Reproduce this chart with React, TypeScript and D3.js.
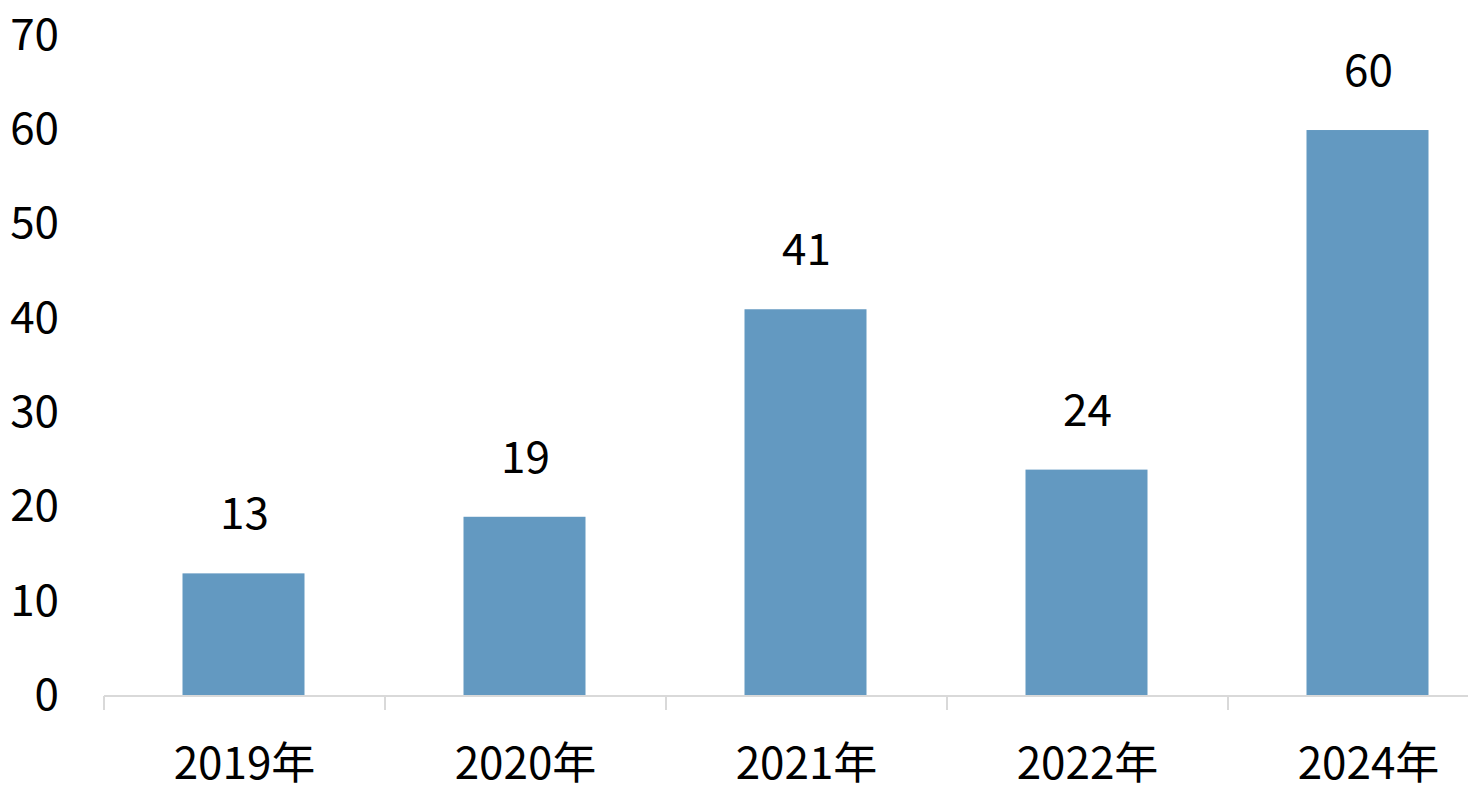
import React from "react";
import * as d3 from "d3";

const categories = ["2019年", "2020年", "2021年", "2022年", "2024年"];
const values = [13, 19, 41, 24, 60];
const yTicks = [0, 10, 20, 30, 40, 50, 60, 70];

const W = 1468;
const H = 794;
const FONT = "'Noto Sans CJK KR', 'Noto Sans', sans-serif";

export default function App() {
  const band = 281;
  const x = d3.scaleBand<string>().domain(categories).range([104, 104 + band * categories.length]).paddingInner(0).paddingOuter(0);
  const y = d3.scaleLinear().domain([0, 70]).range([696, 35.7]);
  const bw = 122;
  const ticksX = d3.range(categories.length + 1).map((i) => 104 + i * band);
  const cxOf = (c: string) => (x(c) as number) + x.bandwidth() / 2;
  return (
    <svg width={W} height={H} style={{ position: "absolute", left: 0, top: 0, background: "#fff" }}>
      {categories.map((c, i) => (
        <rect key={c} x={cxOf(c) - bw / 2 - 1} y={y(values[i])} width={bw} height={y(0) - y(values[i])} fill="#6399C1" />
      ))}
      <line x1={104} x2={W} y1={y(0)} y2={y(0)} stroke="#d9d9d9" strokeWidth={2} />
      {ticksX.map((t, i) => (
        <line key={i} x1={t} x2={t} y1={y(0)} y2={y(0) + 14} stroke="#d9d9d9" strokeWidth={2} />
      ))}
      {yTicks.map((t) => (
        <text key={t} x={59} y={y(t) - 5} textAnchor="end" dominantBaseline="central" fontSize={44} fontFamily={FONT} fill="#000">
          {t}
        </text>
      ))}
      {categories.map((c) => (
        <text key={c} x={cxOf(c)} y={760} textAnchor="middle" dominantBaseline="central" fontSize={44} fontFamily={FONT} fill="#000">
          {c}
        </text>
      ))}
      {values.map((v, i) => (
        <text key={i} x={cxOf(categories[i])} y={y(v) - 44} textAnchor="middle" fontSize={44} fontFamily={FONT} fill="#000">
          {v}
        </text>
      ))}
    </svg>
  );
}
